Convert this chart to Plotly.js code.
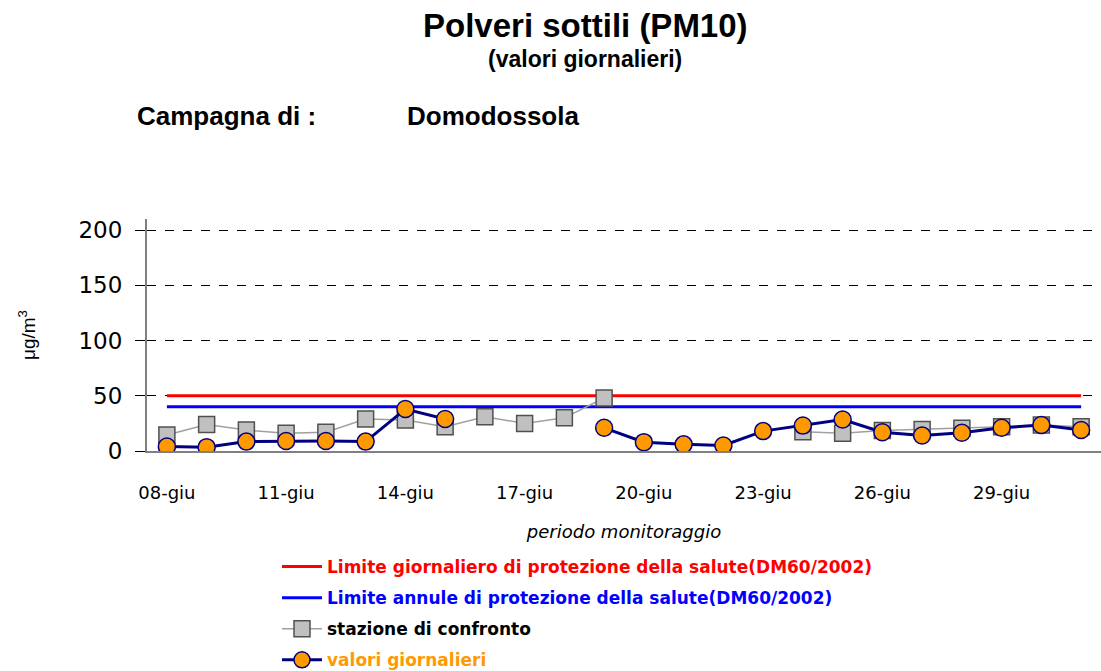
<!DOCTYPE html>
<html>
<head>
<meta charset="utf-8">
<script src="https://cdn.plot.ly/plotly-3.0.1.min.js"></script>
<style>html,body{margin:0;padding:0;background:#fff;}#chart{width:1101px;height:671px;}</style>
</head>
<body>
<div id="chart"></div>
<script>
var categories = ["08-giu","09-giu","10-giu","11-giu","12-giu","13-giu","14-giu","15-giu","16-giu","17-giu","18-giu","19-giu","20-giu","21-giu","22-giu","23-giu","24-giu","25-giu","26-giu","27-giu","28-giu","29-giu","30-giu","01-lug"];
var tickLabels = ["08-giu","11-giu","14-giu","17-giu","20-giu","23-giu","26-giu","29-giu"];
var valoriGiornalieri = [4, 3.5, 8.5, 9, 9, 8.5, 38, 29, null, null, null, 21, 8, 6, 5, 18, 23, 28.5, 17, 14, 16.5, 21, 23.5, 19];
var stazioneConfronto = [14.5, 24, 19, 16, 17, 29, 28, 22, 31, 25, 30, 48, null, null, null, null, 17.5, 16, 18.5, 19.5, 20.5, 22, 23.5, 22];
var limiteGiornaliero = [50,50,50,50,50,50,50,50,50,50,50,50,50,50,50,50,50,50,50,50,50,50,50,50];
var limiteAnnuale = [40,40,40,40,40,40,40,40,40,40,40,40,40,40,40,40,40,40,40,40,40,40,40,40];

var W = 1101, H = 671, L = 147, R = 0, T = 219, B = 220;
function px(x){ return (x - L) / (W - L - R); }
function py(y){ return (H - B - y) / (H - T - B); }

var legendFont = {family: "DejaVu Sans", size: 17};
var traces = [
  {x: categories, y: limiteGiornaliero, type: "scatter", mode: "lines", legendgroup: "g1",
   name: '<b><span style="color:#ff0000">Limite giornaliero di protezione della salute(DM60/2002)</span></b>',
   line: {color: "#ff0000", width: 3}, hoverinfo: "skip"},
  {x: categories, y: limiteAnnuale, type: "scatter", mode: "lines", legendgroup: "g2",
   name: '<b><span style="color:#0000ff">Limite annule di protezione della salute(DM60/2002)</span></b>',
   line: {color: "#0000ff", width: 3}, hoverinfo: "skip"},
  {x: categories, y: stazioneConfronto, type: "scatter", mode: "lines+markers", legendgroup: "g3",
   name: '<b><span style="color:#000000">stazione di confronto</span></b>',
   line: {color: "#a0a0a0", width: 1.5}, connectgaps: false,
   marker: {symbol: "square", size: 16, color: "#c0c0c0", line: {color: "#505050", width: 1.5}}},
  {x: categories, y: valoriGiornalieri, type: "scatter", mode: "lines+markers", legendgroup: "g4",
   name: '<b><span style="color:#ff9900">valori giornalieri</span></b>',
   line: {color: "#000080", width: 3}, connectgaps: false,
   marker: {symbol: "circle", size: 17, color: "#ff9900", line: {color: "#000080", width: 1.5}}}
];

var layout = {
  width: W, height: H,
  margin: {l: L, r: R, t: T, b: B, autoexpand: false},
  paper_bgcolor: "#ffffff", plot_bgcolor: "#ffffff",
  showlegend: true,
  legend: {x: px(277), y: py(549), xanchor: "left", yanchor: "top", font: legendFont,
           traceorder: "grouped", tracegroupgap: 6, bgcolor: "rgba(0,0,0,0)", itemwidth: 40},
  xaxis: {type: "category", categoryorder: "array", categoryarray: categories,
          range: [-0.5, 23.5], tickmode: "array", tickvals: tickLabels, ticktext: tickLabels,
          showgrid: false, zeroline: false, showline: true, linecolor: "#808080", linewidth: 2,
          ticks: "", ticklabelstandoff: 24,
          tickfont: {family: "DejaVu Sans", size: 18, color: "#000"},
          title: {text: "<i>periodo monitoraggio</i>", font: {family: "DejaVu Sans", size: 18, color: "#000"}, standoff: 24},
          fixedrange: true},
  yaxis: {range: [0, 210], tickmode: "array", tickvals: [0, 50, 100, 150, 200],
          showgrid: true, gridcolor: "#000000", griddash: "dash", gridwidth: 1,
          zeroline: false, showline: true, linecolor: "#808080", linewidth: 2,
          ticks: "outside", ticklen: 10, tickcolor: "#000", tickwidth: 1, ticklabelstandoff: 8,
          tickfont: {family: "DejaVu Sans", size: 23, color: "#000"},
          title: {text: "μg/m<sup>3</sup>", font: {family: "Liberation Sans", size: 19, color: "#000"}, standoff: 38},
          fixedrange: true},
  annotations: [
    {xref: "paper", yref: "paper", x: px(585), y: py(25), xanchor: "center", yanchor: "middle", showarrow: false,
     text: "<b>Polveri sottili (PM10)</b>", font: {family: "Liberation Sans", size: 33, color: "#000"}},
    {xref: "paper", yref: "paper", x: px(585), y: py(59), xanchor: "center", yanchor: "middle", showarrow: false,
     text: "<b>(valori giornalieri)</b>", font: {family: "Liberation Sans", size: 23, color: "#000"}},
    {xref: "paper", yref: "paper", x: px(135), y: py(116), xanchor: "left", yanchor: "middle", showarrow: false,
     text: "<b>Campagna di :</b>", font: {family: "Liberation Sans", size: 26, color: "#000"}},
    {xref: "paper", yref: "paper", x: px(405), y: py(116), xanchor: "left", yanchor: "middle", showarrow: false,
     text: "<b>Domodossola</b>", font: {family: "Liberation Sans", size: 26, color: "#000"}}
  ]
};

Plotly.newPlot("chart", traces, layout, {displayModeBar: false, staticPlot: true});
</script>
</body>
</html>
